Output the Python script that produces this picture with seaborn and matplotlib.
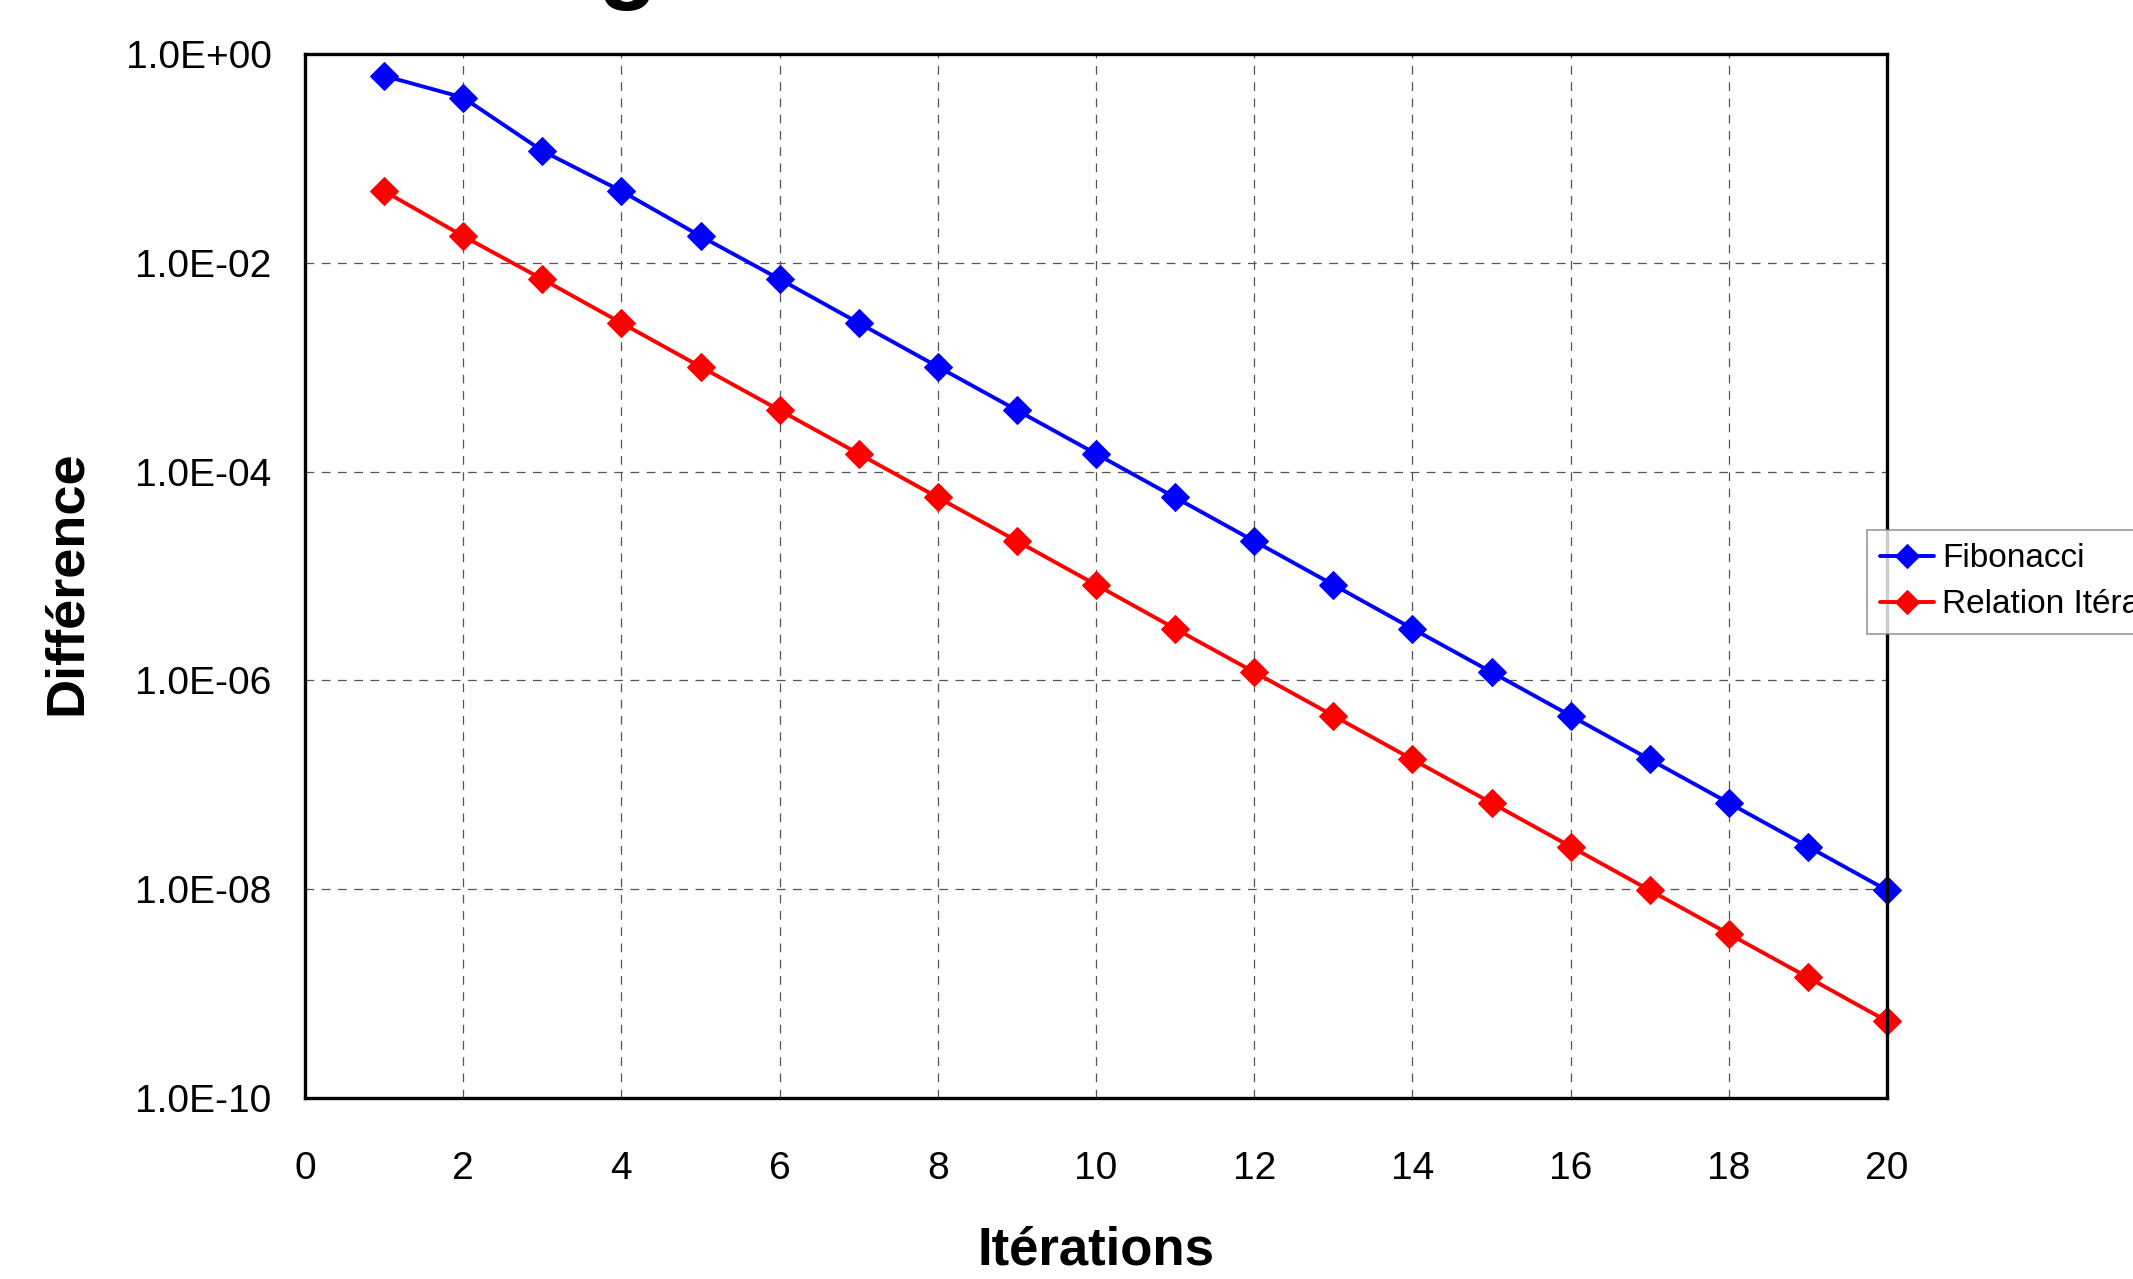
import numpy as np
import pandas as pd
import matplotlib
matplotlib.use('Agg')
import matplotlib.pyplot as plt
import matplotlib.ticker as ticker
import seaborn as sns

# values (log scale)
iterations = list(range(1, 21))
fibonacci = [0.618, 0.382, 0.118, 0.0486, 0.0180, 0.00697, 0.00265, 0.00101,
             3.87e-4, 1.48e-4, 5.65e-5, 2.16e-5, 8.24e-6, 3.13e-6, 1.20e-6,
             4.59e-7, 1.75e-7, 6.70e-8, 2.56e-8, 9.77e-9]
relation_iterative = [0.0486, 0.0180, 0.00697, 0.00265, 0.00101, 3.87e-4,
                      1.48e-4, 5.65e-5, 2.16e-5, 8.24e-6, 3.13e-6, 1.20e-6,
                      4.59e-7, 1.75e-7, 6.70e-8, 2.56e-8, 9.77e-9, 3.73e-9,
                      1.43e-9, 5.44e-10]
x_ticks = list(range(0, 21, 2))
y_ticks = [1e0, 1e-2, 1e-4, 1e-6, 1e-8, 1e-10]

df_fib = pd.DataFrame({'iteration': iterations, 'difference': fibonacci})
df_rel = pd.DataFrame({'iteration': iterations, 'difference': relation_iterative})

sns.set_style('white')
plt.rcParams['font.family'] = ['Liberation Sans', 'DejaVu Sans']
plt.rcParams['text.color'] = 'black'
plt.rcParams['axes.labelcolor'] = 'black'
plt.rcParams['xtick.labelcolor'] = 'black'
plt.rcParams['ytick.labelcolor'] = 'black'

fig = plt.figure(figsize=(21.33, 12.79), dpi=100)
ax = fig.add_axes([0.1430, 0.1415, 0.7417, 0.8163])

line_kw = dict(marker='D', markersize=14, linewidth=2.8, clip_on=False)
sns.lineplot(data=df_fib, x='iteration', y='difference', color='#0000ff',
             markeredgecolor='#0000ff', label='Fibonacci', ax=ax, **line_kw)
sns.lineplot(data=df_rel, x='iteration', y='difference', color='#ff0000',
             markeredgecolor='#ff0000', label='Relation Itérative', ax=ax, **line_kw)

ax.set_yscale('log')
ax.set_xlim(0, 20)
ax.set_ylim(1e-10, 1)
ax.set_xticks(x_ticks)
ax.set_yticks(y_ticks)
ax.yaxis.set_minor_locator(ticker.NullLocator())
ax.yaxis.set_major_formatter(ticker.FuncFormatter(lambda v, _: f'{v:.1E}'))

ax.grid(True, color='#555555', linestyle=(0, (7, 6)), linewidth=0.9)
for s in ax.spines.values():
    s.set_color('black')
    s.set_linewidth(2.4)
ax.tick_params(axis='both', which='major', direction='out', length=9,
               width=1, color='#808080', labelsize=28)
ax.tick_params(axis='y', pad=15)
ax.tick_params(axis='x', pad=29)

ax.set_xlabel('Itérations', fontsize=38, fontweight='bold')
ax.set_ylabel('Différence', fontsize=39, fontweight='bold')
ax.xaxis.set_label_coords(0.5, -0.122)
ax.yaxis.set_label_coords(-0.135, 0.494)

# title is cut off at the top of the picture, only the descender shows
fig.text(0.1234, 1.0068, 'Convergence', fontsize=70, fontweight='bold',
         ha='left', va='baseline')

handles, labels = ax.get_legend_handles_labels()
ax.get_legend().remove()
leg = fig.legend(handles, labels, loc='upper left', bbox_to_anchor=(0.8753, 0.5856),
                 fontsize=24, frameon=True, fancybox=False, edgecolor='#808080',
                 borderaxespad=0, borderpad=0.4, handlelength=1.6,
                 handletextpad=0.25, labelspacing=0.45, markerscale=0.85)
leg.get_frame().set_linewidth(1.2)

fig.savefig('out.png', dpi=100)
